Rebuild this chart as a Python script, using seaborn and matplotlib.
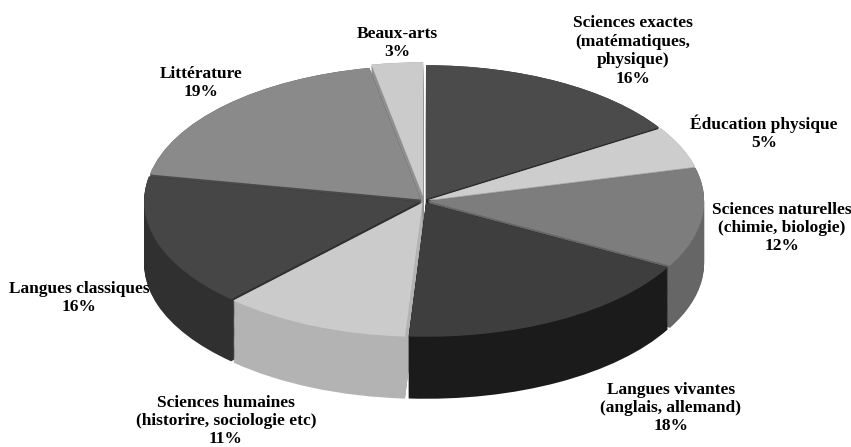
import matplotlib
matplotlib.use("Agg")
import matplotlib.pyplot as plt
import seaborn as sns
import numpy as np

# ---- data ----
categories = [
    "Sciences exactes\n(matématiques,\nphysique)",
    "Éducation physique",
    "Sciences naturelles\n(chimie, biologie)",
    "Langues vivantes\n(anglais, allemand)",
    "Sciences humaines\n(historire, sociologie etc)",
    "Langues classiques",
    "Littérature",
    "Beaux-arts",
]
shares = [16, 5, 12, 18, 11, 16, 19, 3]

# ---- styling ----
top_colors = ["#4b4b4b", "#cdcdcd", "#7d7d7d", "#3e3e3e",
              "#cbcbcb", "#464646", "#8a8a8a", "#cbcbcb"]
side_colors = ["#2a2a2a", "#a0a0a0", "#666666", "#1b1b1b",
               "#b3b3b3", "#303030", "#4a4a4a", "#909090"]
explode = [0.015, 0.015, 0.015, 0.015, 0.015, 0.015, 0.015, 0.035]

# label centres in pixel coordinates (x from left, y from top)
label_pos = [(633, 51), (764, 133), (782, 228), (671, 408),
             (226, 421), (79, 298), (201, 83), (397, 43)]

sns.set_theme(style="white")
plt.rcParams["font.family"] = ["Liberation Serif", "DejaVu Serif"]

W, H = 851, 447
fig = plt.figure(figsize=(W / 100, H / 100), dpi=100)
fig.patch.set_facecolor("white")
ax = fig.add_axes([0, 0, 1, 1])

cx, cy = 424, 201      # pie centre (pixels)
rx, ry = 276, 134      # ellipse radii (pixels)
depth = 62 / ry        # side-wall height in data units

for k in np.linspace(depth, 0, 60):
    ax.pie(shares, startangle=90, counterclock=False, colors=side_colors,
           explode=explode, center=(0, -k), wedgeprops=dict(linewidth=0))
ax.pie(shares, startangle=90, counterclock=False, colors=top_colors,
       explode=explode, wedgeprops=dict(linewidth=0))

ax.set_aspect("auto")
ax.set_xlim(-cx / rx, (W - cx) / rx)
ax.set_ylim(-(H - cy) / ry, cy / ry)
ax.axis("off")

for name, share, (px, py) in zip(categories, shares, label_pos):
    fig.text(px / W, 1 - py / H, f"{name}\n{share}%", ha="center", va="center",
             multialignment="center", fontsize=12.5, fontweight="bold",
             color="black", linespacing=1.2)

fig.savefig("out.png", dpi=100)
